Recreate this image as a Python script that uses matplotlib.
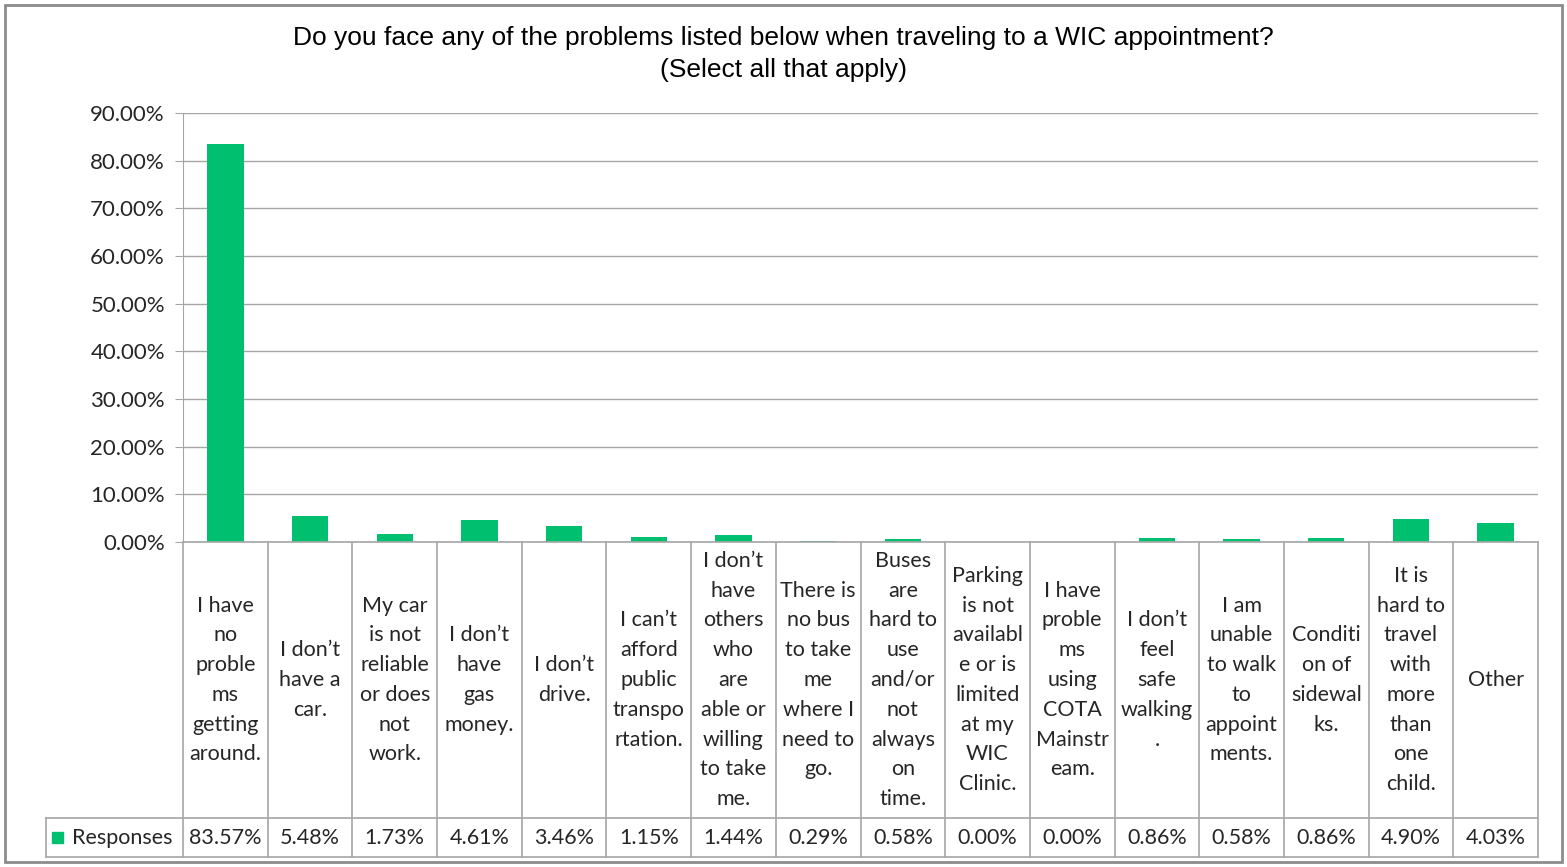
import numpy as np
import matplotlib.pyplot as plt
from matplotlib.patches import Rectangle

categories = [
    "I have\nno\nproble\nms\ngetting\naround.",
    "I don\u2019t\nhave a\ncar.",
    "My car\nis not\nreliable\nor does\nnot\nwork.",
    "I don\u2019t\nhave\ngas\nmoney.",
    "I don\u2019t\ndrive.",
    "I can\u2019t\nafford\npublic\ntranspo\nrtation.",
    "I don\u2019t\nhave\nothers\nwho\nare\nable or\nwilling\nto take\nme.",
    "There is\nno bus\nto take\nme\nwhere I\nneed to\ngo.",
    "Buses\nare\nhard to\nuse\nand/or\nnot\nalways\non\ntime.",
    "Parking\nis not\navailabl\ne or is\nlimited\nat my\nWIC\nClinic.",
    "I have\nproble\nms\nusing\nCOTA\nMainstr\neam.",
    "I don\u2019t\nfeel\nsafe\nwalking\n.",
    "I am\nunable\nto walk\nto\nappoint\nments.",
    "Conditi\non of\nsidewal\nks.",
    "It is\nhard to\ntravel\nwith\nmore\nthan\none\nchild.",
    "Other",
]
responses = [83.57, 5.48, 1.73, 4.61, 3.46, 1.15, 1.44, 0.29, 0.58,
             0.00, 0.00, 0.86, 0.58, 0.86, 4.90, 4.03]
series_name = "Responses"
title_lines = ["Do you face any of the problems listed below when traveling to a WIC appointment?",
               "(Select all that apply)"]

green = "#00BF6F"
grid_c = "#A6A6A6"
txt_c = "#262626"
lab_font = ["Lato", "DejaVu Sans"]
fs = 15.5

W, H = 1567, 867
fig = plt.figure(figsize=(W / 100, H / 100), dpi=100)

def px_axes(x0, y0, x1, y1):
    return fig.add_axes([x0 / W, 1 - y1 / H, (x1 - x0) / W, (y1 - y0) / H])

# outer frame
fig.patches.append(Rectangle((5 / W, 5 / H), (W - 10) / W, (H - 10) / H,
                             transform=fig.transFigure, fill=False,
                             edgecolor="#8C8C8C", linewidth=2))

for j, line in enumerate(title_lines):
    fig.text(783 / W, 1 - (38 + 32 * j) / H, line, ha="center", va="center",
             fontsize=19, family="Liberation Sans", color="black")

n = len(categories)
x = np.arange(n)
left, right, top, base = 183, 1538, 113, 542

ax = px_axes(left, top, right, base)
ax.bar(x, responses, width=0.43, color=green, zorder=3)
ax.set_xlim(-0.5, n - 0.5)
ax.set_ylim(0, 90)
ax.set_yticks(np.arange(0, 91, 10))
ax.set_yticklabels([f"{v:.2f}%" for v in np.arange(0, 91, 10)],
                   family=lab_font, fontsize=16, color=txt_c)
ax.yaxis.grid(True, color=grid_c, linewidth=1)
ax.set_axisbelow(True)
ax.set_xticks([])
ax.tick_params(axis="y", length=6, color=grid_c, pad=7)
for s in ["top", "right", "bottom"]:
    ax.spines[s].set_visible(False)
ax.spines["left"].set_color(grid_c)

# data table under the chart
col_w = (right - left) / n
leg_left = 46
row1, row2 = 818, 857
tax = px_axes(leg_left, base, right, row2)
tax.set_xlim(-0.5 - (left - leg_left) / col_w, n - 0.5)
tax.set_ylim(row2, base)
tax.axis("off")
lk = dict(color=grid_c, linewidth=1.2, clip_on=False)
for k in range(n + 1):
    tax.plot([k - 0.5, k - 0.5], [base, row2], **lk)
tax.plot([n - 0.5, -0.5], [base, base], **lk)
xl = -0.5 - (left - leg_left) / col_w
tax.plot([xl, n - 0.5], [row1, row1], **lk)
tax.plot([xl, n - 0.5], [row2, row2], **lk)
tax.plot([xl, xl], [row1, row2], **lk)

for i, (c, v) in enumerate(zip(categories, responses)):
    tax.text(i, (base + row1) / 2, c, ha="center", va="center",
             family=lab_font, fontsize=fs, color=txt_c, linespacing=1.61)
    tax.text(i, (row1 + row2) / 2, f"{v:.2f}%", ha="center", va="center",
             family=lab_font, fontsize=fs, color=txt_c)

sq = 11 / col_w
tax.add_patch(Rectangle((xl + 6 / col_w, 832), sq, 11, color=green, clip_on=False))
tax.text(xl + 26 / col_w, (row1 + row2) / 2, series_name, ha="left", va="center",
         family=lab_font, fontsize=fs, color=txt_c)

fig.savefig("out.png", dpi=100, facecolor="white")
